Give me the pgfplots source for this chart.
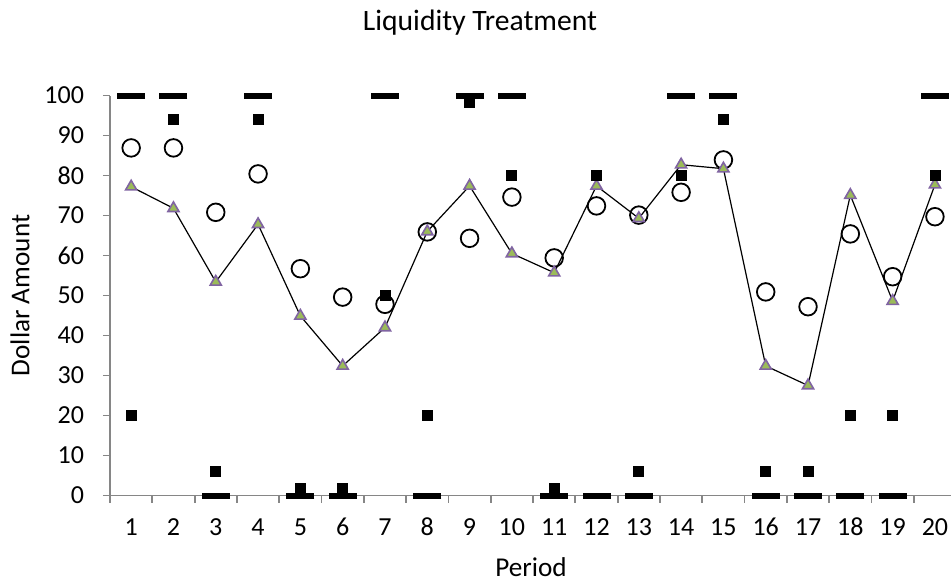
\documentclass[border=0pt]{standalone}
\usepackage{pgfplots}
\pgfplotsset{compat=1.18}
\usepackage{fontspec}
\setmainfont{Carlito}
\definecolor{axgray}{RGB}{134,134,134}
\definecolor{tripurple}{RGB}{128,100,162}
\definecolor{trigreen}{RGB}{155,187,89}
\begin{document}
\begin{tikzpicture}
\begin{axis}[
    scale only axis,
    width=420.5pt, height=200pt,
    xmin=0.5, xmax=20.38, ymin=0, ymax=100,
    axis x line=bottom, axis y line=left,
    axis line style={axgray, line width=0.9pt, -},
    tick align=outside,
    xtick={1,...,20},
    minor xtick={0.5,1.5,...,19.5},
    major x tick style={draw=none},
    minor tick length=3.5pt,
    major tick length=3.5pt,
    tick style={axgray, line width=0.9pt},
    ytick={0,10,...,100},
    /pgf/number format/assume math mode=true,
    tick label style={font=\fontsize{13}{15}\selectfont},
    xticklabel style={text height=9pt, text depth=0pt, yshift=-4pt},
    yticklabel style={xshift=-6pt},
    clip=false,
]
    % mean offers
    \addplot[only marks, mark=o, mark size=4.4pt, mark options={line width=0.9pt, black}] coordinates {
        (1,86.9) (2,86.9) (3,70.8) (4,80.4) (5,56.7) (6,49.6) (7,47.8) (8,65.9) (9,64.3) (10,74.6)
        (11,59.4) (12,72.4) (13,70.1) (14,75.8) (15,83.9) (16,50.9) (17,47.2) (18,65.4) (19,54.7) (20,69.7)
    };
    % prediction
    \addplot[black, line width=0.6pt, mark=triangle*, mark size=3.2pt,
        mark options={draw=tripurple, fill=trigreen, line width=0.8pt}] coordinates {
        (1,77.2) (2,71.8) (3,53.4) (4,67.8) (5,44.9) (6,32.4) (7,42.0) (8,66.0) (9,77.4) (10,60.5)
        (11,55.7) (12,77.4) (13,69.3) (14,82.7) (15,81.7) (16,32.4) (17,27.5) (18,75.1) (19,48.6) (20,77.7)
    };
    % individual choices
    \addplot[only marks, mark=-, mark size=7pt, mark options={line width=3pt, black}] coordinates {
        (1,100) (2,100) (4,100) (7,100) (9,100) (10,100) (14,100) (15,100) (20,100)
        (3,0) (5,0) (6,0) (8,0) (11,0) (12,0) (13,0) (16,0) (17,0) (18,0) (19,0)
    };
    \addplot[only marks, mark=square*, mark size=2.5pt, mark options={black}] coordinates {
        (1,20) (2,94) (3,6) (4,94) (5,1.8) (6,1.8) (7,50) (8,20) (9,98.2) (10,80)
        (11,1.8) (12,80) (13,6) (14,80) (15,94) (16,6) (17,6) (18,20) (19,20) (20,80)
    };
\end{axis}
\node[font=\fontsize{14.8}{17}\selectfont] at (185pt,236.5pt) {Liquidity Treatment};
\node[font=\fontsize{13.6}{16}\selectfont, rotate=90] at (-45pt,100pt) {Dollar Amount};
\node[font=\fontsize{13.6}{16}\selectfont] at (210.5pt,-35.75pt) {Period};
\pgfresetboundingbox
\path (-55pt,-44.75pt) rectangle (420.5pt,247.75pt);
\end{tikzpicture}
\end{document}
